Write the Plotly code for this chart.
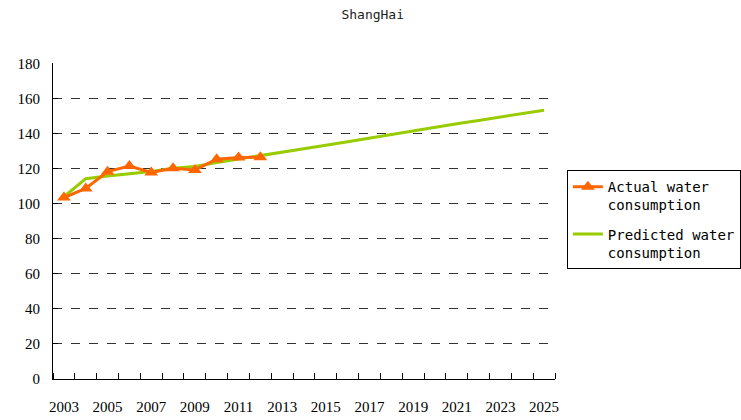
import plotly.graph_objects as go

years = list(range(2003, 2026))
actual_years = list(range(2003, 2013))
actual = [103.5, 108.7, 118.3, 121.5, 117.8, 120.2, 119.3, 125.4, 126.4, 126.5]
predicted = [104.0, 114.3, 115.8, 116.9, 118.4, 120.2, 121.3, 123.5, 125.4, 127.3,
             129.6, 131.5, 133.4, 135.4, 137.5, 139.6, 141.6, 143.6, 145.6, 147.5,
             149.5, 151.5, 153.4]
y_ticks = list(range(0, 181, 20))
x_labels = list(range(2003, 2026, 2))

fig = go.Figure()
fig.add_trace(go.Scatter(
    x=years, y=predicted, mode="lines",
    name="Predicted water<br>consumption",
    line=dict(color="#99CC00", width=3),
    legendrank=2, legendgroup="pred",
))
fig.add_trace(go.Scatter(
    x=actual_years, y=actual, mode="lines+markers",
    name="Actual water<br>consumption",
    line=dict(color="#FF6600", width=3),
    marker=dict(symbol="triangle-up", size=12, color="#FF6600"),
    legendrank=1, legendgroup="act",
))

fig.update_layout(
    width=741, height=420,
    margin=dict(l=53, r=186, t=63, b=41),
    paper_bgcolor="white", plot_bgcolor="white",
    title=dict(text="ShangHai", x=0.503, xanchor="center", y=0.965, yanchor="middle",
               font=dict(family="DejaVu Sans Mono", size=13, color="#222222")),
    showlegend=True,
    legend=dict(xref="container", yref="container", x=0.765, xanchor="left",
                y=0.595, yanchor="top", valign="top",
                bordercolor="black", borderwidth=1,
                font=dict(family="DejaVu Sans Mono", size=14, color="black"),
                tracegroupgap=8, itemwidth=30),
    font=dict(family="Liberation Serif", color="black"),
)
fig.update_xaxes(
    range=[2002.5, 2025.5], automargin=False,
    tickmode="array", tickvals=x_labels, ticktext=[str(v) for v in x_labels],
    ticks="", ticklabelstandoff=14,
    tickfont=dict(family="Liberation Sans Narrow", size=15, color="black"),
    showgrid=False, zeroline=False,
    showline=True, linecolor="black", linewidth=1,
    minor=dict(tickmode="linear", tick0=2002.5, dtick=1, ticks="inside",
               ticklen=6, tickcolor="black", showgrid=False),
)
fig.update_yaxes(
    range=[0, 180.3], automargin=False, tickmode="array", tickvals=y_ticks,
    ticks="inside", ticklen=5, tickcolor="black",
    tickfont=dict(family="Liberation Sans Narrow", size=15, color="black"),
    showgrid=True, gridcolor="#333333", griddash="dash", gridwidth=1,
    zeroline=False, showline=True, linecolor="black", linewidth=1,
    ticklabelstandoff=9,
)

fig.write_html("out.html")
